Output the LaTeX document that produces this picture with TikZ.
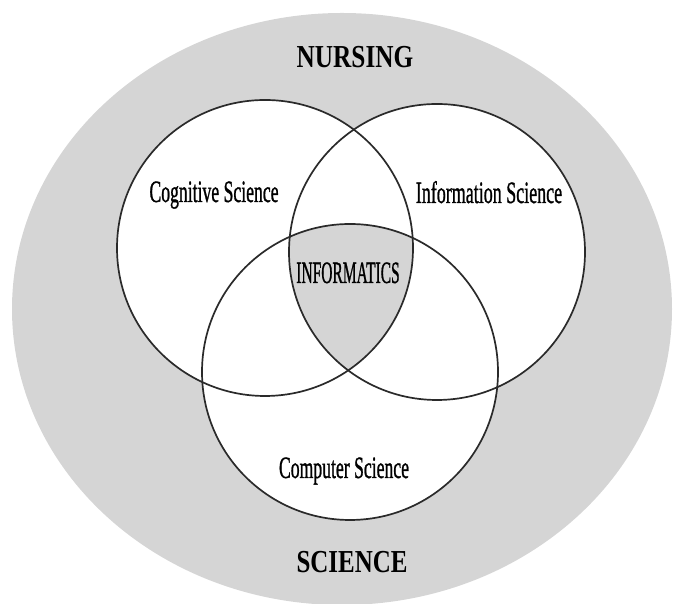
\documentclass[tikz,border=0pt]{standalone}
\usepackage{fontspec}
\usepackage{graphicx}
\setmainfont{Liberation Serif}
\newfontfamily\fonterotulo[FakeBold=1.3]{Liberation Serif}
\definecolor{fundo}{HTML}{D5D5D5}
\definecolor{traco}{HTML}{2A2A2A}
\def\circulos{265/356, 437/352, 350/232}
\def\raio{148}
\tikzset{
  campo/.style={fill=fundo},
  disciplina/.style={fill=white},
  contorno/.style={draw=traco, line width=1.7pt},
  area/.style={anchor=base, inner sep=0pt, font=\fontsize{32}{32}\selectfont\bfseries},
  rotulo/.style={anchor=base, inner sep=0pt, font=\fontsize{31}{31}\fonterotulo},
}
\newcommand{\estreito}[2]{\scalebox{#1}[1]{#2}}

\begin{document}
\begin{tikzpicture}[x=1pt, y=1pt]
  \useasboundingbox (0,0) rectangle (681,604);

  % ---------------- campo de fundo ----------------
  \fill[campo] (342,295) ellipse [x radius=330, y radius=296];

  % ---------------- circulos das disciplinas ----------------
  \foreach \x/\y in \circulos { \fill[disciplina] (\x,\y) circle (\raio); }
  \begin{scope}
    \clip (265,356) circle (\raio);
    \clip (437,352) circle (\raio);
    \fill[campo] (350,232) circle (\raio);
  \end{scope}
  \foreach \x/\y in \circulos { \draw[contorno] (\x,\y) circle (\raio); }

  % ---------------- rotulos ----------------
  \node[area] (nursing) at (355,536) {\estreito{0.79}{NURSING}};
  \node[area] (science) at (352,31) {\estreito{0.78}{SCIENCE}};
  \node[rotulo] (cognitiva) at (214,402) {\estreito{0.57}{Cognitive Science}};
  \node[rotulo] (informacao) at (489,401) {\estreito{0.58}{Information Science}};
  \node[rotulo] (computacao) at (344,126) {\estreito{0.57}{Computer Science}};
  \node[rotulo] (informatica) at (348,321) {\estreito{0.5}{INFORMATICS}};
\end{tikzpicture}
\end{document}
